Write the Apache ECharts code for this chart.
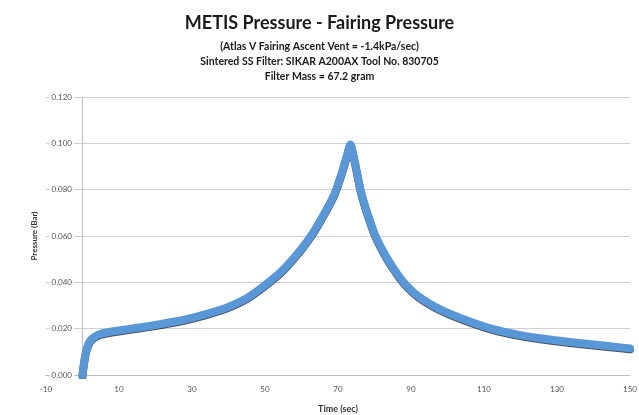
<!DOCTYPE html>
<html>
<head>
<meta charset="utf-8">
<script src="https://cdn.jsdelivr.net/npm/echarts@6/dist/echarts.min.js"></script>
<style>
  html, body {margin: 0; padding: 0; background: #fff;}
  #chart {width: 639px; height: 415px;}
</style>
</head>
<body>
<div id="chart"></div>
<script>
// time (sec) and fairing pressure (bar)
const timeSec = [0, 0.3, 0.7, 1.2, 2, 3, 5, 8, 12, 16, 20, 25, 30, 35, 40, 45, 50, 55, 60, 63, 66, 69, 71, 72.5, 73.4,
    74.2, 75, 76.3, 78, 80, 82.5, 85, 88, 92, 98, 105, 112, 120, 128, 136, 144, 150];
const pressureBar = [0, 0.004, 0.008, 0.0115, 0.0145, 0.0162, 0.0178, 0.0188, 0.0197, 0.0206, 0.0216, 0.0230, 0.0247,
    0.0268, 0.0294, 0.0332, 0.0388, 0.0455, 0.0545, 0.0610, 0.0690, 0.0780, 0.0870, 0.0950, 0.0995,
    0.0950, 0.0890, 0.0790, 0.0700, 0.0610, 0.0530, 0.0465, 0.0400, 0.0340, 0.0283, 0.0237, 0.0200, 0.0172,
    0.0153, 0.0138, 0.0125, 0.0115];
const titleLines = [
    '(Atlas V Fairing Ascent Vent = -1.4kPa/sec)',
    'Sintered SS Filter: SIKAR A200AX Tool No. 830705',
    'Filter Mass = 67.2 gram'
];

const chart = echarts.init(document.getElementById('chart'));
const font = 'Lato, "Open Sans", sans-serif';
const points = timeSec.map((t, i) => [t, pressureBar[i]]);

chart.setOption({
    animation: false,
    textStyle: {fontFamily: font},
    title: [
        {
            text: 'METIS Pressure - Fairing Pressure',
            left: 'center',
            top: 9,
            textStyle: {fontSize: 18, fontWeight: 'bold', color: '#1a1a1a', fontFamily: font}
        },
        ...titleLines.map((line, i) => ({
            text: line,
            left: 'center',
            top: 36 + i * 15,
            textStyle: {fontSize: 10.5, fontWeight: 'bold', color: '#1a1a1a', fontFamily: font}
        }))
    ],
    grid: {left: 46, right: 9, top: 97, bottom: 40, outerBoundsMode: 'none', containLabel: false},
    xAxis: {
        type: 'value',
        min: -10,
        max: 150,
        interval: 10,
        name: 'Time (sec)',
        nameLocation: 'middle',
        nameGap: 30,
        nameTextStyle: {fontSize: 9, fontWeight: 'bold', color: '#333'},
        axisLine: {lineStyle: {color: '#bdbdbd'}},
        axisTick: {show: false},
        splitLine: {show: false},
        axisLabel: {
            fontSize: 8,
            color: '#555',
            margin: 10,
            formatter: v => ((v + 10) % 20 === 0 ? String(v) : '')
        }
    },
    yAxis: {
        type: 'value',
        min: 0,
        max: 0.12,
        interval: 0.02,
        name: 'Pressure (Bar)',
        nameLocation: 'middle',
        nameGap: 6,
        nameTextStyle: {fontSize: 8, fontWeight: 'bold', color: '#333'},
        axisLine: {show: true, onZero: true, lineStyle: {color: '#bdbdbd'}},
        axisTick: {show: false},
        splitLine: {lineStyle: {color: '#cfcfcf'}},
        axisLabel: {
            fontSize: 8,
            color: '#555',
            margin: -28,
            backgroundColor: '#fff',
            padding: [1, 2],
            formatter: v => v.toFixed(3)
        }
    },
    series: [{
        type: 'line',
        data: points,
        showSymbol: false,
        smooth: 0.25,
        lineStyle: {
            color: '#5A97D6',
            width: 8,
            cap: 'round',
            join: 'round',
            shadowColor: 'rgba(10,20,40,0.75)',
            shadowBlur: 0,
            shadowOffsetY: 1
        }
    }]
});
</script>
</body>
</html>
